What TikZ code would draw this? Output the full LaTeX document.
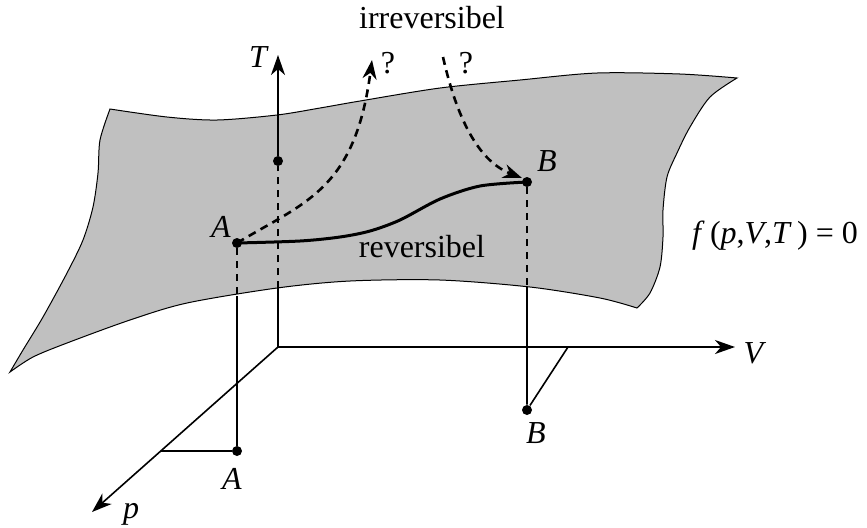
\documentclass[tikz,border=0pt]{standalone}
\usepackage{fontspec}
\setmainfont{Liberation Serif}
\usepackage{tikz}
\usetikzlibrary{arrows.meta, positioning}
\definecolor{surfGray}{HTML}{C0C0C0}

\begin{document}
\begin{tikzpicture}[x=0.5pt, y=-0.5pt,
  axisline/.style={line width=0.8pt, -{Stealth[length=10pt, width=7pt, inset=3pt]}},
  thinline/.style={line width=0.8pt},
  hidline/.style={line width=0.8pt, dash pattern=on 3.5pt off 3pt},
  revpath/.style={line width=1.5pt},
  irrpath/.style={line width=1.3pt, dash pattern=on 4pt off 2.8pt, -{Stealth[length=9.5pt, width=7pt, inset=3pt]}},
  dotpt/.style={circle, fill=black, inner sep=0pt, minimum size=5pt},
  lbl/.style={font=\fontsize{16}{19}\selectfont, anchor=base, inner sep=0pt}
]
  \useasboundingbox (0,0) rectangle (867,527);

  % state surface
  \filldraw[fill=surfGray, line width=0.5pt]
    plot[smooth] coordinates {(110,109) (167,117) (217,120) (277,115) (320,108) (360,101) (440,88) (520,80) (597,73) (680,74) (737,78)}
    -- plot[smooth] coordinates {(737,78) (710,97) (690,127) (677,153) (667,177) (663,210) (663,237) (660,267) (650,293) (637,308)}
    -- plot[smooth] coordinates {(637,308) (600,298) (530,287) (440,280) (350,281) (277,288) (187,303) (130,320) (67,343) (33,357) (10,372)}
    -- plot[smooth] coordinates {(10,372) (23,350) (43,317) (67,273) (83,240) (93,207) (98,173) (100,140) (110,109)}
    -- cycle;

  \coordinate (O) at (278,347);
  \coordinate (Ttip) at (278,55);
  \coordinate (Vtip) at (735,347);
  \coordinate (ptip) at (92,512);
  \coordinate (Tlow) at (278,288);
  \coordinate (Alow) at (237,296);
  \coordinate (Blow) at (527,287);
  \coordinate (Ap) at (161,451);
  \coordinate (Bv) at (568,347);
  \coordinate (Iup) at (372,60);
  \coordinate (Itop) at (443,57);
  \coordinate (Bin) at (522,178);

  \node[dotpt] (Tpt) at (278,161) {};
  \node[dotpt] (A) at (237,243) {};
  \node[dotpt] (B) at (527,182) {};
  \node[dotpt] (Abase) at (237,451) {};
  \node[dotpt] (Bbase) at (527,410) {};

  % axes
  \draw[axisline] (O) -- (Vtip);
  \draw[axisline] (O) -- (ptip);
  \draw[thinline] (O) -- (Tlow);
  \draw[hidline] (Tlow) -- (Tpt);
  \draw[axisline] (Tpt) -- (Ttip);

  % projections
  \draw[hidline] (A) -- (Alow);
  \draw[thinline] (Alow) -- (Abase) -- (Ap);
  \draw[hidline] (B) -- (Blow);
  \draw[thinline] (Blow) -- (Bbase) -- (Bv);

  % processes
  \draw[revpath] plot[smooth] coordinates {(A) (300,241) (340,237) (370,231) (400,220) (440,199) (480,186) (B)};
  \draw[irrpath] (A.center) .. controls (305,202) and (355,190) .. (Iup);
  \draw[irrpath] (Itop) .. controls (455,110) and (475,160) .. (Bin);

  % labels
  \node[lbl] (lT) at (259,67) {\textit{T}};
  \node[lbl] (lV) at (755,363) {\textit{V}};
  \node[lbl] (lp) at (131,518) {\textit{p}};
  \node[lbl] (lA) at (221,237) {\textit{A}};
  \node[lbl] (lB) at (547,171) {\textit{B}};
  \node[lbl] (lAb) at (232,489) {\textit{A}};
  \node[lbl] (lBb) at (536,443) {\textit{B}};
  \node[lbl] (lirr) at (432,28) {irreversibel};
  \node[lbl] (lq1) at (388,73) {?};
  \node[lbl] (lq2) at (466,73) {?};
  \node[lbl] (lrev) at (422,257) {reversibel};
  \node[lbl] (lf) at (775,243) {\textit{f}\,(\textit{p},\textit{V},\textit{T}\/\,) = 0};
\end{tikzpicture}
\end{document}
